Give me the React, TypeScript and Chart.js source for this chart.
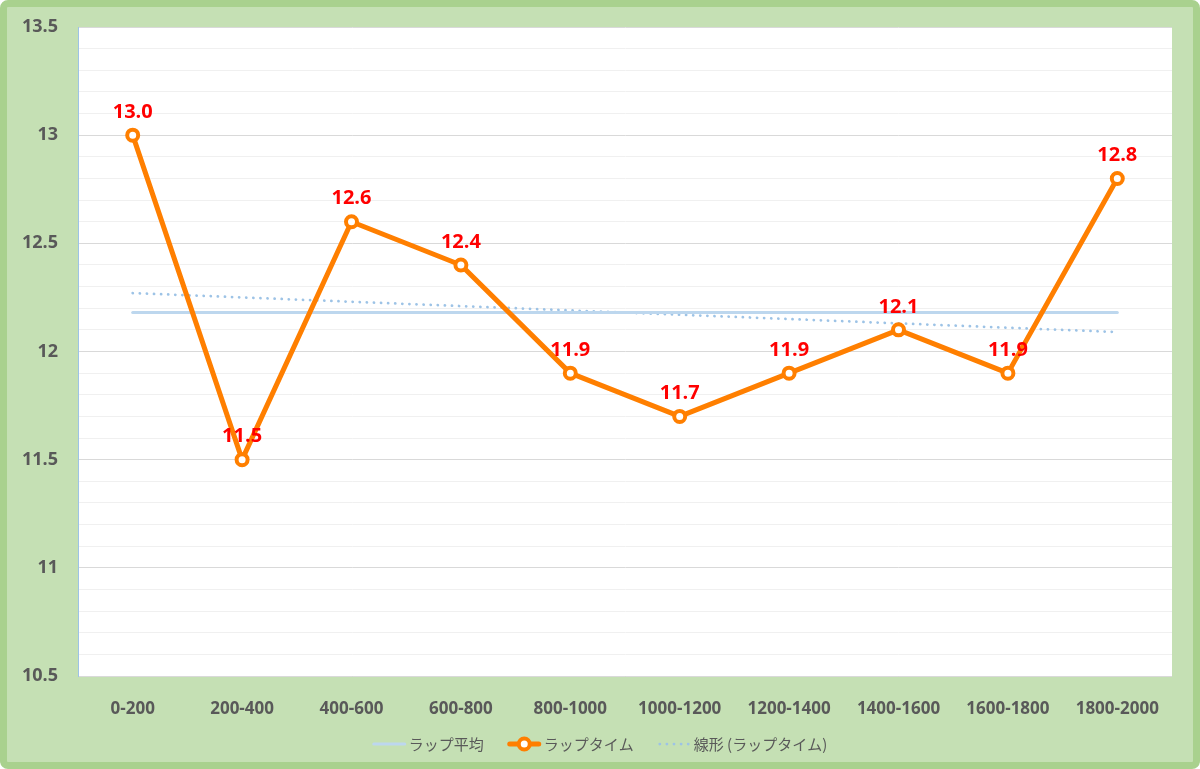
import React, { useEffect, useRef } from "react";
import { Chart, registerables } from "chart.js";

Chart.register(...registerables);

const categories = [
  "0-200", "200-400", "400-600", "600-800", "800-1000",
  "1000-1200", "1200-1400", "1400-1600", "1600-1800", "1800-2000",
];
const lapTimes = [13.0, 11.5, 12.6, 12.4, 11.9, 11.7, 11.9, 12.1, 11.9, 12.8];
const lapAverage = [12.18, 12.18, 12.18, 12.18, 12.18, 12.18, 12.18, 12.18, 12.18, 12.18];
const lapTrend = [12.27, 12.25, 12.23, 12.21, 12.19, 12.17, 12.15, 12.13, 12.11, 12.09];
const yMin = 10.5;
const yMax = 13.5;
const yMinorStep = 0.1;
const legendLabels = ["ラップ平均", "ラップタイム", "線形 (ラップタイム)"];

const ORANGE = "#ff7f00";
const AVG_BLUE = "#bdd7ee";
const TREND_BLUE = "#9dc3e6";
const TEXT_GRAY = "#595959";

const isMajor = (v: number) => Math.abs(v * 2 - Math.round(v * 2)) < 1e-6;

const plotBackground = {
  id: "plotBackground",
  beforeDraw(chart: any) {
    const { ctx, chartArea } = chart;
    ctx.save();
    ctx.fillStyle = "#ffffff";
    ctx.fillRect(chartArea.left, chartArea.top, chartArea.right - chartArea.left, chartArea.bottom - chartArea.top);
    ctx.restore();
  },
};

const dataLabels = {
  id: "dataLabels",
  afterDatasetsDraw(chart: any) {
    const { ctx } = chart;
    const meta = chart.getDatasetMeta(0);
    ctx.save();
    ctx.font = 'bold 20px "Open Sans"';
    ctx.fillStyle = "#ff0000";
    ctx.textAlign = "center";
    ctx.textBaseline = "middle";
    meta.data.forEach((el: any, i: number) => {
      ctx.fillText(lapTimes[i].toFixed(1), el.x, el.y - 23);
    });
    ctx.restore();
  },
};

const customLegend = {
  id: "customLegend",
  afterDraw(chart: any) {
    const { ctx, width, height } = chart;
    ctx.save();
    ctx.font = '15px "Noto Sans CJK JP"';
    const sampleW = 33;
    const gap = 3;
    const itemGap = 24;
    const widths = legendLabels.map((t) => ctx.measureText(t).width);
    const total = widths.reduce((a, w) => a + sampleW + gap + w, 0) + itemGap * (legendLabels.length - 1);
    let x = (width - total) / 2;
    const y = height - 18;
    legendLabels.forEach((label, i) => {
      ctx.save();
      ctx.lineCap = "round";
      if (i === 0) {
        ctx.strokeStyle = AVG_BLUE;
        ctx.lineWidth = 3;
        ctx.beginPath();
        ctx.moveTo(x + 1, y);
        ctx.lineTo(x + sampleW - 1, y);
        ctx.stroke();
      } else if (i === 1) {
        ctx.strokeStyle = ORANGE;
        ctx.lineWidth = 5;
        ctx.beginPath();
        ctx.moveTo(x + 2, y);
        ctx.lineTo(x + sampleW - 2, y);
        ctx.stroke();
        ctx.beginPath();
        ctx.arc(x + sampleW / 2, y, 5.5, 0, Math.PI * 2);
        ctx.fillStyle = "#ffffff";
        ctx.fill();
        ctx.lineWidth = 4;
        ctx.stroke();
      } else {
        ctx.strokeStyle = TREND_BLUE;
        ctx.lineWidth = 2.75;
        ctx.setLineDash([0.1, 7]);
        ctx.beginPath();
        ctx.moveTo(x + 2, y);
        ctx.lineTo(x + sampleW, y);
        ctx.stroke();
      }
      ctx.restore();
      x += sampleW + gap;
      ctx.fillStyle = TEXT_GRAY;
      ctx.textAlign = "left";
      ctx.textBaseline = "middle";
      ctx.fillText(label, x, y);
      x += widths[i] + itemGap;
    });
    ctx.restore();
  },
};

export default function App() {
  const canvasRef = useRef<HTMLCanvasElement | null>(null);

  useEffect(() => {
    if (!canvasRef.current) return;
    const chart = new Chart(canvasRef.current, {
      type: "line",
      data: {
        labels: categories,
        datasets: [
          {
            label: legendLabels[1],
            data: lapTimes,
            borderColor: ORANGE,
            borderWidth: 5,
            pointRadius: 5.5,
            pointBorderWidth: 4,
            pointBackgroundColor: "#ffffff",
            pointBorderColor: ORANGE,
            tension: 0,
            borderJoinStyle: "round",
          },
          {
            label: legendLabels[0],
            data: lapAverage,
            borderColor: AVG_BLUE,
            borderWidth: 3,
            pointRadius: 0,
            borderCapStyle: "round",
          },
          {
            label: legendLabels[2],
            data: lapTrend,
            borderColor: TREND_BLUE,
            borderWidth: 2.75,
            borderDash: [0.1, 7],
            borderCapStyle: "round",
            pointRadius: 0,
          },
        ],
      },
      options: {
        animation: false,
        responsive: true,
        maintainAspectRatio: false,
        layout: { padding: { top: 20, right: 21, left: 0, bottom: 0 } },
        plugins: {
          legend: { display: false },
          tooltip: { enabled: false },
        },
        scales: {
          x: {
            offset: true,
            grid: { display: false },
            border: { display: false },
            afterFit: (scale: any) => {
              scale.height = 86;
            },
            ticks: {
              color: TEXT_GRAY,
              font: { family: "Open Sans", size: 17, weight: "bold" },
              padding: 15,
              maxRotation: 0,
              autoSkip: false,
            },
          },
          y: {
            min: yMin,
            max: yMax,
            afterFit: (scale: any) => {
              scale.width = 71;
              scale.paddingTop = 0;
              scale.paddingBottom = 0;
            },
            border: { color: TREND_BLUE, width: 1 },
            grid: {
              drawTicks: false,
              color: (c: any) => (c.tick && isMajor(c.tick.value) ? "#d9d9d9" : "#f0f0f0"),
              lineWidth: 1,
            },
            ticks: {
              stepSize: yMinorStep,
              autoSkip: false,
              color: TEXT_GRAY,
              font: { family: "Open Sans", size: 18, weight: "bold" },
              padding: 20,
              callback: (v: any) => (isMajor(Number(v)) ? String(Math.round(Number(v) * 10) / 10) : ""),
            },
          },
        },
      },
      plugins: [plotBackground, dataLabels, customLegend],
    });
    return () => chart.destroy();
  }, []);

  return (
    <div
      style={{
        position: "fixed",
        left: 0,
        top: 0,
        width: 1200,
        height: 769,
        boxSizing: "border-box",
        border: "7px solid #a9d18e",
        borderRadius: 8,
        background: "#c5e0b4",
      }}
    >
      <div style={{ position: "relative", width: 1186, height: 755 }}>
        <canvas ref={canvasRef} />
      </div>
    </div>
  );
}
